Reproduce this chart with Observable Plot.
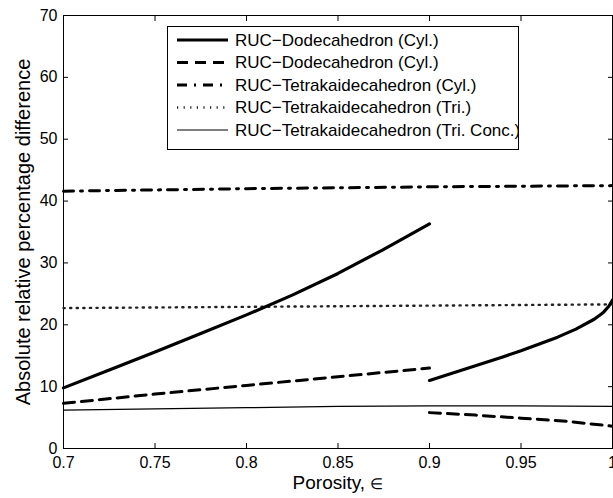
<!DOCTYPE html>
<html><head><meta charset="utf-8">
<script src="https://cdn.jsdelivr.net/npm/d3@7"></script>
<script src="https://cdn.jsdelivr.net/npm/@observablehq/plot@0.6"></script>
<style>
body{margin:0;background:#fff;}
#wrap{position:relative;width:613px;height:498px;font-family:"Liberation Sans",Arial,sans-serif;}
#legend{position:absolute;left:167px;top:26px;}
</style></head><body><div id="wrap"></div>
<script>
// ---- tick values / labels ----
const xTicks = [0.7, 0.75, 0.8, 0.85, 0.9, 0.95, 1];
const xTickLabels = ["0.7", "0.75", "0.8", "0.85", "0.9", "0.95", "1"];
const yTicks = [0, 10, 20, 30, 40, 50, 60, 70];
const xLabel = "Porosity, ∈";
const yLabel = "Absolute relative percentage difference";

// ---- series names ----
const seriesNames = [
  "RUC−Dodecahedron (Cyl.)",
  "RUC−Dodecahedron (Cyl.)",
  "RUC−Tetrakaidecahedron (Cyl.)",
  "RUC−Tetrakaidecahedron (Tri.)",
  "RUC−Tetrakaidecahedron (Tri. Conc.)"
];

// ---- series 1: Dodecahedron (Cyl.), solid thick (two branches) ----
const dodSolidAX = [0.70, 0.725, 0.75, 0.775, 0.80, 0.825, 0.85, 0.875, 0.90];
const dodSolidAY = [9.8, 12.7, 15.6, 18.6, 21.6, 24.8, 28.3, 32.2, 36.3];
const dodSolidBX = [0.90, 0.92, 0.94, 0.95, 0.96, 0.97, 0.98, 0.99, 0.995, 0.998, 1.0];
const dodSolidBY = [11.0, 12.9, 14.8, 15.8, 16.9, 18.0, 19.3, 20.9, 22.0, 23.0, 24.0];

// ---- series 2: Dodecahedron (Cyl.), dashed (two branches) ----
const dodDashAX = [0.70, 0.75, 0.80, 0.85, 0.90];
const dodDashAY = [7.3, 8.8, 10.2, 11.6, 13.0];
const dodDashBX = [0.90, 0.925, 0.95, 0.975, 1.0];
const dodDashBY = [5.8, 5.4, 4.9, 4.4, 3.6];

// ---- series 3: Tetrakaidecahedron (Cyl.), dash-dot ----
const tetCylX = [0.70, 0.80, 0.90, 1.0];
const tetCylY = [41.6, 42.0, 42.3, 42.5];

// ---- series 4: Tetrakaidecahedron (Tri.), dotted ----
const tetTriX = [0.70, 0.80, 0.90, 1.0];
const tetTriY = [22.7, 22.9, 23.1, 23.3];

// ---- series 5: Tetrakaidecahedron (Tri. Conc.), thin solid ----
const tetConcX = [0.70, 0.75, 0.80, 0.85, 0.90, 0.95, 1.0];
const tetConcY = [6.2, 6.4, 6.6, 6.8, 6.9, 6.9, 6.8];

function seg(xs, ys, s, k) { return xs.map((x, i) => ({x, y: ys[i], s, k})); }

const d1 = [...seg(dodSolidAX, dodSolidAY, 0, "a"), ...seg(dodSolidBX, dodSolidBY, 0, "b")];
const d2 = [...seg(dodDashAX, dodDashAY, 1, "a"), ...seg(dodDashBX, dodDashBY, 1, "b")];
const d3s = seg(tetCylX, tetCylY, 2, "a");
const d4 = seg(tetTriX, tetTriY, 3, "a");
const d5 = seg(tetConcX, tetConcY, 4, "a");

const styles = [
  {stroke: "#000", strokeWidth: 3.2},
  {stroke: "#000", strokeWidth: 3, strokeDasharray: "11,7"},
  {stroke: "#000", strokeWidth: 3, strokeDasharray: "10,7,2,7"},
  {stroke: "#222", strokeWidth: 2.4, strokeDasharray: "1.2,5.4"},
  {stroke: "#000", strokeWidth: 1.2}
];

const lineOpts = (i) => ({x: "x", y: "y", z: "k", curve: "linear", ...styles[i]});
const fmtX = d => xTickLabels[xTicks.indexOf(d)] ?? String(d);

const chart = Plot.plot({
  width: 613, height: 498,
  marginLeft: 63, marginRight: 1, marginTop: 15, marginBottom: 50,
  x: {domain: [0.7, 1]},
  y: {domain: [0, 70]},
  style: {fontFamily: "'Liberation Sans', Arial, sans-serif", background: "#fff", color: "#000"},
  marks: [
    Plot.frame({stroke: "#000", strokeWidth: 1}),
    // inward ticks on all four sides
    Plot.axisX(xTicks, {anchor: "bottom", tickSize: 5, dy: -5, tickFormat: () => "", label: null}),
    Plot.axisX(xTicks, {anchor: "top", tickSize: 5, dy: 5, tickFormat: () => "", label: null}),
    Plot.axisY(yTicks, {anchor: "left", tickSize: 5, dx: 5, tickFormat: () => "", label: null}),
    Plot.axisY(yTicks, {anchor: "right", tickSize: 5, dx: -5, tickFormat: () => "", label: null}),
    // tick labels
    Plot.axisX(xTicks, {anchor: "bottom", tickSize: 0, tickPadding: 8, tickFormat: fmtX, fontSize: 16, label: null}),
    Plot.axisY(yTicks, {anchor: "left", tickSize: 0, tickPadding: 6, fontSize: 16, label: null}),
    // axis titles
    Plot.text([xLabel], {text: d => d, frameAnchor: "bottom", dy: 40, fontSize: 19, textAnchor: "middle"}),
    Plot.text([yLabel], {text: d => d, frameAnchor: "left", rotate: -90, dx: -40, fontSize: 20, textAnchor: "middle"}),
    // series
    Plot.line(d4, lineOpts(3)),
    Plot.line(d5, lineOpts(4)),
    Plot.line(d3s, lineOpts(2)),
    Plot.line(d2, lineOpts(1)),
    Plot.line(d1, lineOpts(0))
  ]
});

const wrap = document.getElementById("wrap");
wrap.appendChild(chart);

// smaller epsilon glyph in x title
d3.select(chart).selectAll("text").filter(function() { return this.textContent === xLabel; })
  .each(function() {
    const t = d3.select(this);
    t.text("Porosity, ");
    t.append("tspan").attr("font-size", 15).text("∈");
  });

// ---- legend ----
const lw = 351, lh = 123;
const legend = d3.create("svg").attr("id", "legend").attr("width", lw + 1).attr("height", lh + 1);
legend.append("rect").attr("x", 0.5).attr("y", 0.5).attr("width", lw).attr("height", lh)
  .attr("fill", "#fff").attr("stroke", "#000").attr("stroke-width", 1);
const rowY = [14, 36.5, 59, 81.5, 104];
seriesNames.forEach((name, i) => {
  const st = styles[i];
  legend.append("line").attr("x1", 10).attr("x2", 61).attr("y1", rowY[i]).attr("y2", rowY[i])
    .attr("stroke", st.stroke).attr("stroke-width", st.strokeWidth)
    .attr("stroke-dasharray", st.strokeDasharray || null);
  legend.append("text").attr("x", 68).attr("y", rowY[i]).attr("dy", "0.35em")
    .attr("font-size", 17).attr("font-family", "'Liberation Sans', Arial, sans-serif")
    .attr("fill", "#000").text(name);
});
wrap.appendChild(legend.node());
</script>
</body></html>
